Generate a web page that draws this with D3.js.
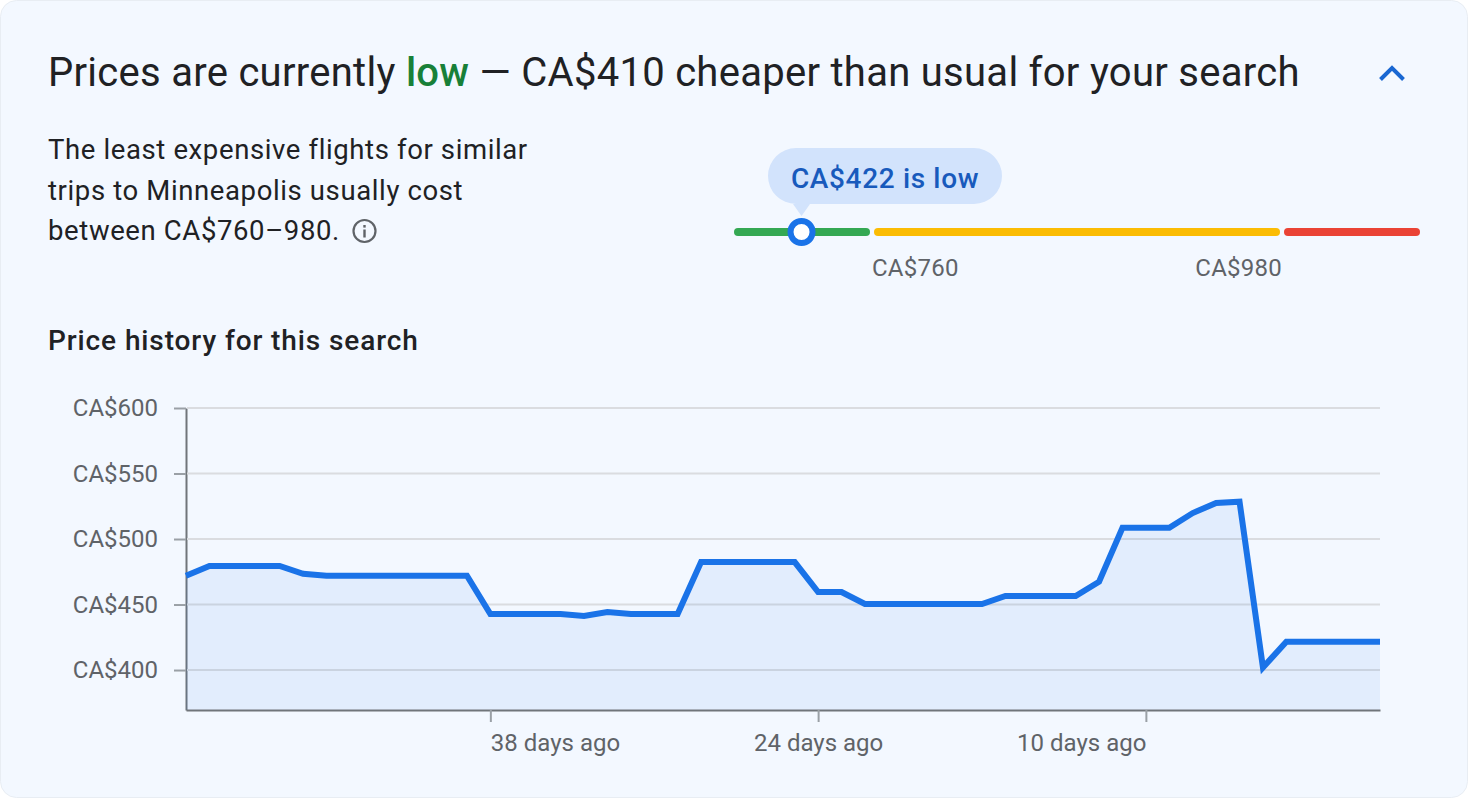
<!DOCTYPE html>
<html>
<head>
<meta charset="utf-8">
<script src="https://cdnjs.cloudflare.com/ajax/libs/d3/7.8.5/d3.min.js"></script>
<style>
  html, body { margin: 0; padding: 0; background: #fff; }
  svg { display: block; }
  text { font-family: Roboto, Arial, sans-serif; }
</style>
</head>
<body>
<svg id="chart" width="1468" height="798"></svg>
<script>
// one price per day, oldest first
const daysAgo = [51, 50, 49, 48, 47, 46, 45, 44, 43, 42, 41, 40, 39, 38, 37, 36, 35, 34, 33, 32, 31, 30, 29, 28, 27, 26,
  25, 24, 23, 22, 21, 20, 19, 18, 17, 16, 15, 14, 13, 12, 11, 10, 9, 8, 7, 6, 5, 4, 3, 2, 1, 0];
const prices = [472, 479.5, 479.5, 479.5, 479.5, 473.5, 472, 472, 472, 472, 472, 472, 472, 442.7, 442.7, 442.7, 442.7, 441.2,
  444.3, 442.7, 442.7, 442.7, 482.4, 482.4, 482.4, 482.4, 482.4, 459.5, 459.5, 450.4, 450.4, 450.4, 450.4, 450.4, 450.4,
  456.5, 456.5, 456.5, 456.5, 467.4, 508.6, 508.6, 508.6, 519.8, 527.5, 528.5, 402, 421.6, 421.6, 421.6, 421.6, 421.6];
const yTicks = [400, 450, 500, 550, 600];
const xTicks = [38, 24, 10];
const xTickAnchors = ["start", "middle", "end"];

const rangeStops = [98, 760, 980, 1200];
const rangeColors = ["#34a853", "#fbbc04", "#ea4335"];
const rangeLabels = [760, 980];
const currentPrice = 422;

const descLines = [
  "The least expensive flights for similar",
  "trips to Minneapolis usually cost",
  "between CA$760–980."
];

const svg = d3.select("#chart");

// card
svg.append("rect")
  .attr("x", 0.5).attr("y", 0.5)
  .attr("width", 1467).attr("height", 797)
  .attr("rx", 16)
  .attr("fill", "#f3f8ff")
  .attr("stroke", "#e8edf3");

// heading
const title = svg.append("text")
  .attr("x", 48).attr("y", 86)
  .attr("font-size", 40)
  .attr("letter-spacing", 0.28)
  .attr("fill", "#202124");
title.append("tspan").text("Prices are currently ");
title.append("tspan").attr("fill", "#188038").attr("font-weight", 500).text("low");
title.append("tspan").text(" — CA$410 cheaper than usual for your search");

svg.append("path")
  .attr("d", "M1380.5 79.5L1392 68L1403.5 79.5")
  .attr("fill", "none")
  .attr("stroke", "#1967d2")
  .attr("stroke-width", 4);

// description
svg.selectAll("text.desc")
  .data(descLines)
  .enter().append("text")
  .attr("class", "desc")
  .attr("x", 48)
  .attr("y", (d, i) => 159 + i * 40.5)
  .attr("font-size", 27.5)
  .attr("letter-spacing", 0.62)
  .attr("fill", "#202124")
  .text(d => d);

const info = svg.append("g").attr("transform", "translate(364.5,231)");
info.append("circle").attr("r", 11).attr("fill", "none").attr("stroke", "#5f6368").attr("stroke-width", 2.2);
info.append("rect").attr("x", -1.2).attr("y", -1.5).attr("width", 2.4).attr("height", 8).attr("fill", "#5f6368");
info.append("rect").attr("x", -1.2).attr("y", -6).attr("width", 2.4).attr("height", 2.6).attr("fill", "#5f6368");

// price range bar
const rangeX = d3.scaleLinear().domain(rangeStops).range([734, 872, 1282, 1420]);
svg.selectAll("rect.range")
  .data(rangeColors)
  .enter().append("rect")
  .attr("class", "range")
  .attr("x", (d, i) => rangeX(rangeStops[i]) + (i ? 2 : 0))
  .attr("y", 228)
  .attr("width", (d, i) => rangeX(rangeStops[i + 1]) - rangeX(rangeStops[i]) - (i === 1 ? 4 : 2))
  .attr("height", 8)
  .attr("rx", 4)
  .attr("fill", d => d);

svg.selectAll("text.rangeLabel")
  .data(rangeLabels)
  .enter().append("text")
  .attr("class", "rangeLabel")
  .attr("x", d => rangeX(d))
  .attr("y", 276)
  .attr("text-anchor", (d, i) => i ? "end" : "start")
  .attr("font-size", 24)
  .attr("letter-spacing", 0.25)
  .attr("fill", "#5f6368")
  .text(d => "CA$" + d);

const markerX = rangeX(currentPrice);
svg.append("path")
  .attr("d", "M792 148H974a28 28 0 0 1 0 56H810L" + markerX + " 216L793 204H796a28 28 0 0 1 0 -56Z")
  .attr("fill", "#d2e3fc");
svg.append("text")
  .attr("x", 885).attr("y", 187.5)
  .attr("text-anchor", "middle")
  .attr("font-size", 28)
  .attr("letter-spacing", 0.65)
  .attr("font-weight", 500)
  .attr("fill", "#185abc")
  .text("CA$" + currentPrice + " is low");
svg.append("circle")
  .attr("cx", markerX).attr("cy", 232).attr("r", 11)
  .attr("fill", "#fff")
  .attr("stroke", "#1a73e8")
  .attr("stroke-width", 6);

// price history
svg.append("text")
  .attr("x", 48).attr("y", 350)
  .attr("font-size", 28)
  .attr("letter-spacing", 0.9)
  .attr("font-weight", 500)
  .attr("fill", "#202124")
  .text("Price history for this search");

const x = d3.scaleLinear().domain([d3.max(daysAgo), 0]).range([186, 1380]);
const y = d3.scaleLinear().domain([369.5, 600]).range([710, 408]);

const area = d3.area().x((d, i) => x(daysAgo[i])).y0(y(369.5)).y1(d => y(d));
const line = d3.line().x((d, i) => x(daysAgo[i])).y(d => y(d));

const yAxis = svg.append("g")
  .attr("transform", "translate(186,0)")
  .call(d3.axisLeft(y).tickValues(yTicks).tickSize(12).tickSizeOuter(0).tickPadding(16).tickFormat(d => "CA$" + d));
yAxis.select(".domain").attr("stroke", "#70757a").attr("stroke-width", 2);
yAxis.selectAll(".tick line").attr("stroke", "#9aa0a6").attr("stroke-width", 2);
yAxis.selectAll(".tick text")
  .attr("font-family", "Roboto, Arial, sans-serif")
  .attr("font-size", 24)
  .attr("fill", "#5f6368");

svg.append("g")
  .selectAll("line")
  .data(yTicks)
  .enter().append("line")
  .attr("x1", 187).attr("x2", 1380)
  .attr("y1", d => y(d)).attr("y2", d => y(d))
  .attr("stroke", "#dadce0")
  .attr("stroke-width", 2);

svg.append("path")
  .datum(prices)
  .attr("d", area)
  .attr("fill", "#1a73e8")
  .attr("fill-opacity", 0.08);

const xAxis = svg.append("g")
  .attr("transform", "translate(0,710)")
  .call(d3.axisBottom(x).tickValues(xTicks).tickSize(12).tickSizeOuter(0).tickPadding(12).tickFormat(d => d + " days ago"));
xAxis.select(".domain").attr("stroke", "#70757a").attr("stroke-width", 2);
xAxis.selectAll(".tick line").attr("stroke", "#9aa0a6").attr("stroke-width", 2);
xAxis.selectAll(".tick text")
  .attr("font-family", "Roboto, Arial, sans-serif")
  .attr("font-size", 24)
  .attr("fill", "#5f6368")
  .attr("text-anchor", (d, i) => xTickAnchors[i]);

svg.append("path")
  .datum(prices)
  .attr("d", line)
  .attr("fill", "none")
  .attr("stroke", "#1a73e8")
  .attr("stroke-width", 6);
</script>
</body>
</html>
